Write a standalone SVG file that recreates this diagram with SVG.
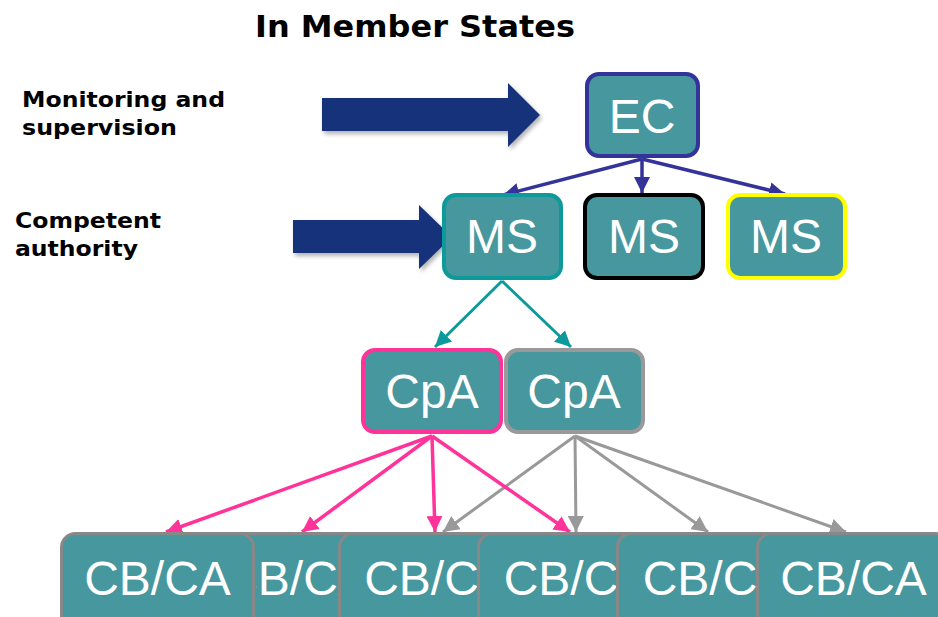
<svg xmlns="http://www.w3.org/2000/svg" width="938" height="617" viewBox="0 0 938 617">
<style>
.lbl{font-family:"DejaVu Sans","Verdana",sans-serif;font-weight:bold;fill:#000}
.nt{font-family:"Liberation Sans",Arial,sans-serif;fill:#fff;text-anchor:middle;font-size:48px}
.box{fill:#46979e}
.big{fill:#15317a}
.c-ec{stroke:#33339a;stroke-width:3.5;fill:none}
.c-ms{stroke:#0e9a9a;stroke-width:3;fill:none}
.c-pk{stroke:#ff3399;stroke-width:3.5;fill:none}
.c-gy{stroke:#999;stroke-width:3;fill:none}
</style>
<defs>
<marker id="hEC" markerUnits="userSpaceOnUse" markerWidth="18" markerHeight="16" refX="16" refY="8" orient="auto"><path d="M0,0 L16,8 L0,16 Z" fill="#33339a"/></marker>
<marker id="hMS" markerUnits="userSpaceOnUse" markerWidth="18" markerHeight="16" refX="16" refY="8" orient="auto"><path d="M0,0 L16,8 L0,16 Z" fill="#0e9a9a"/></marker>
<marker id="hPK" markerUnits="userSpaceOnUse" markerWidth="18" markerHeight="16" refX="16" refY="8" orient="auto"><path d="M0,0 L16,8 L0,16 Z" fill="#ff3399"/></marker>
<marker id="hGY" markerUnits="userSpaceOnUse" markerWidth="18" markerHeight="16" refX="16" refY="8" orient="auto"><path d="M0,0 L16,8 L0,16 Z" fill="#999"/></marker>
<filter id="sh" x="-10%" y="-10%" width="130%" height="140%"><feDropShadow dx="2" dy="3" stdDeviation="2" flood-color="#000" flood-opacity="0.3"/></filter>
<clipPath id="clip2"><rect x="256" y="530" width="82" height="90"/></clipPath>
</defs>

<text class="lbl" x="255" y="37" font-size="30" textLength="320" lengthAdjust="spacingAndGlyphs">In Member States</text>
<text class="lbl" x="22" y="107" font-size="22" textLength="203" lengthAdjust="spacingAndGlyphs">Monitoring and</text>
<text class="lbl" x="22" y="135" font-size="22" textLength="155" lengthAdjust="spacingAndGlyphs">supervision</text>
<text class="lbl" x="15" y="228" font-size="22" textLength="146" lengthAdjust="spacingAndGlyphs">Competent</text>
<text class="lbl" x="15" y="256" font-size="22" textLength="123" lengthAdjust="spacingAndGlyphs">authority</text>

<polygon class="big" filter="url(#sh)" points="322,98 508,98 508,83 540,115 508,147 508,131 322,131"/>
<polygon class="big" filter="url(#sh)" points="293,220 419,220 419,205 452,237 419,269 419,253 293,253"/>

<g id="connectors">
<line class="c-ec" x1="642" y1="159" x2="503" y2="195" marker-end="url(#hEC)"/>
<line class="c-ec" x1="642" y1="159" x2="642" y2="193" marker-end="url(#hEC)"/>
<line class="c-ec" x1="642" y1="159" x2="785" y2="194" marker-end="url(#hEC)"/>
<line class="c-ms" x1="502" y1="281" x2="435" y2="347" marker-end="url(#hMS)"/>
<line class="c-ms" x1="502" y1="281" x2="571" y2="347" marker-end="url(#hMS)"/>
<line class="c-gy" x1="575" y1="436" x2="443" y2="532" marker-end="url(#hGY)"/>
<line class="c-gy" x1="575" y1="436" x2="576" y2="532" marker-end="url(#hGY)"/>
<line class="c-gy" x1="575" y1="436" x2="708" y2="532" marker-end="url(#hGY)"/>
<line class="c-gy" x1="575" y1="436" x2="846" y2="532" marker-end="url(#hGY)"/>
<line class="c-pk" x1="432" y1="436" x2="166" y2="532" marker-end="url(#hPK)"/>
<line class="c-pk" x1="432" y1="436" x2="302" y2="532" marker-end="url(#hPK)"/>
<line class="c-pk" x1="432" y1="436" x2="435" y2="532" marker-end="url(#hPK)"/>
<line class="c-pk" x1="432" y1="436" x2="570" y2="532" marker-end="url(#hPK)"/>
</g>

<g id="ec"><rect class="box" x="587" y="74" width="111" height="82" rx="12" stroke="#33339a" stroke-width="4"/><text class="nt" x="642" y="133">EC</text></g>
<g id="ms1"><rect class="box" x="444" y="195" width="117" height="83" rx="12" stroke="#0e9a9a" stroke-width="4"/><text class="nt" x="502" y="253">MS</text></g>
<g id="ms2"><rect class="box" x="585" y="195" width="118" height="83" rx="12" stroke="#000" stroke-width="4"/><text class="nt" x="644" y="253">MS</text></g>
<g id="ms3"><rect class="box" x="728" y="195" width="117" height="83" rx="12" stroke="#ffff00" stroke-width="4"/><text class="nt" x="786" y="253">MS</text></g>
<g id="cpa1"><rect class="box" x="363" y="350" width="138" height="82" rx="12" stroke="#ff3399" stroke-width="4"/><text class="nt" x="432" y="408">CpA</text></g>
<g id="cpa2"><rect class="box" x="506" y="350" width="137" height="82" rx="12" stroke="#999" stroke-width="4"/><text class="nt" x="574" y="408">CpA</text></g>

<g id="cb2"><rect class="box" x="200.5" y="533.5" width="192" height="100" rx="14" stroke="#888" stroke-width="3"/><text class="nt" x="296.5" y="595" clip-path="url(#clip2)">CB/CA</text></g>
<g id="cb1"><rect class="box" x="61.5" y="533.5" width="192" height="100" rx="14" stroke="#888" stroke-width="3"/><text class="nt" x="157.5" y="595">CB/CA</text></g>
<g id="cb3"><rect class="box" x="339.5" y="533.5" width="192" height="100" rx="14" stroke="#888" stroke-width="3"/><text class="nt" x="437.5" y="595">CB/CA</text></g>
<g id="cb4"><rect class="box" x="478.5" y="533.5" width="192" height="100" rx="14" stroke="#888" stroke-width="3"/><text class="nt" x="577" y="595">CB/CA</text></g>
<g id="cb5"><rect class="box" x="617.5" y="533.5" width="192" height="100" rx="14" stroke="#888" stroke-width="3"/><text class="nt" x="716" y="595">CB/CA</text></g>
<g id="cb6"><rect class="box" x="757.5" y="533.5" width="192" height="100" rx="14" stroke="#888" stroke-width="3"/><text class="nt" x="853.5" y="595">CB/CA</text></g>
</svg>
